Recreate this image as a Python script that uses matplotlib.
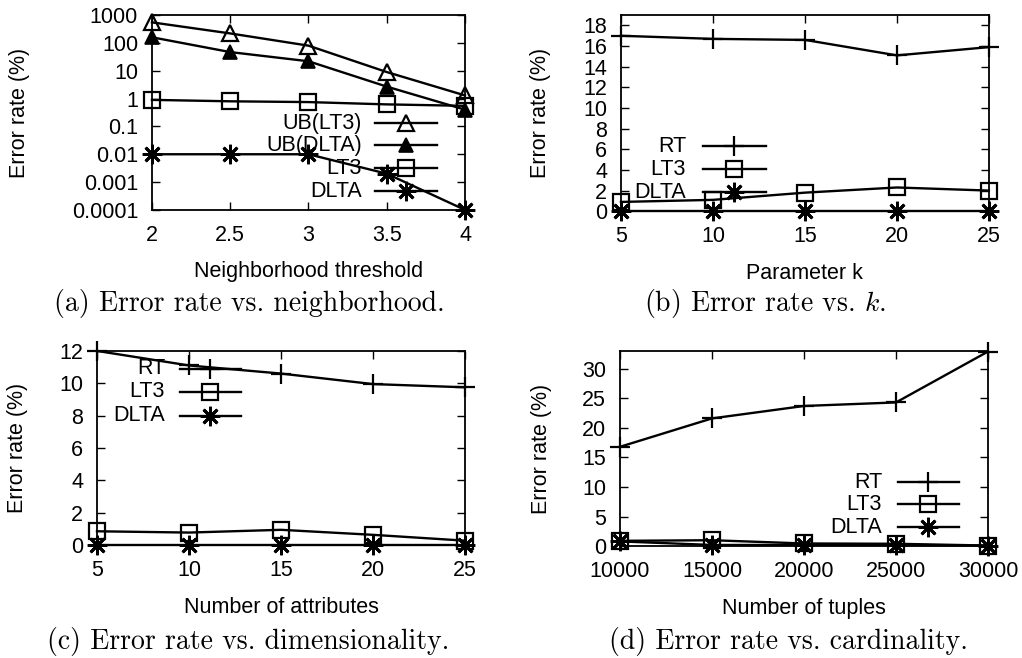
import matplotlib
matplotlib.use("Agg")
import matplotlib.pyplot as plt
from matplotlib.ticker import LogLocator, NullFormatter

plt.rcParams["font.family"] = ["Liberation Sans", "DejaVu Sans"]
plt.rcParams["mathtext.fontset"] = "cm"

# =============================================================================
# DATA
# =============================================================================
# (a) error rate vs neighborhood threshold (log scale)
nbr_threshold = [2, 2.5, 3, 3.5, 4]
a_ub_lt3  = [550, 220, 80, 9, 1.3]
a_ub_dlta = [160, 47, 22, 2.7, 0.4]
a_lt3     = [0.9, 0.8, 0.75, 0.62, 0.55]
a_dlta    = [0.01, 0.01, 0.01, 0.002, 0.0001]
a_yticks  = [1e-4, 1e-3, 1e-2, 1e-1, 1, 10, 100, 1000]
a_ylabels = ["0.0001", "0.001", "0.01", "0.1", "1", "10", "100", "1000"]

# (b) error rate vs k
param_k = [5, 10, 15, 20, 25]
b_rt    = [17.0, 16.7, 16.6, 15.1, 15.9]
b_lt3   = [0.9, 1.1, 1.8, 2.3, 2.0]
b_dlta  = [0, 0, 0, 0, 0]

# (c) error rate vs number of attributes
n_attr = [5, 10, 15, 20, 25]
c_rt   = [12.0, 11.1, 10.6, 9.95, 9.75]
c_lt3  = [0.85, 0.77, 0.94, 0.63, 0.27]
c_dlta = [0, 0, 0, 0, 0]

# (d) error rate vs number of tuples
n_tuples = [10000, 15000, 20000, 25000, 30000]
d_rt     = [16.8, 21.6, 23.7, 24.3, 32.9]
d_lt3    = [0.9, 1.0, 0.45, 0.4, 0.1]
d_dlta   = [0.8, 0.2, 0.2, 0.2, 0.1]

# =============================================================================
# STYLE
# =============================================================================
FS = 15.5
LW = 1.7
MARKERS = {
    "UB(LT3)":  dict(marker="^", mfc="none", ms=12, mew=1.6),
    "UB(DLTA)": dict(marker="^", mfc="black", ms=10.5, mew=1.2),
    "LT3":      dict(marker="s", mfc="none", ms=12, mew=1.6),
    "DLTA":     dict(marker=(8, 2, 0), ms=14, mew=2.0),
    "RT":       dict(marker="+", ms=14, mew=1.6),
}


def draw_panel(ax, x, series, labels, leg, ylab_x):
    for y, lab in zip(series, labels):
        ax.plot(x, y, color="black", lw=LW, clip_on=False, zorder=3, **MARKERS[lab])

    # gnuplot-style key: right-aligned text, then sample line with marker
    txt_x, x0, x1, rows = leg
    for lab, yr in zip(labels, rows):
        ax.plot([x0, (x0 + x1) / 2, x1], [yr] * 3, transform=ax.transAxes,
                color="black", lw=LW, markevery=[1], clip_on=False, zorder=4,
                **MARKERS[lab])
        ax.text(txt_x, yr, lab, transform=ax.transAxes, ha="right", va="center",
                fontsize=FS, zorder=2)

    ax.tick_params(which="both", direction="in", top=True, right=True,
                   labelsize=FS, width=1.0)
    ax.tick_params(which="major", length=6)
    ax.tick_params(axis="x", pad=11)
    ax.tick_params(axis="y", pad=10)
    for sp in ax.spines.values():
        sp.set_linewidth(1.3)
    ax.set_ylabel("Error rate (%)", fontsize=FS)
    ax.yaxis.set_label_coords(ylab_x, 0.5)


fig = plt.figure(figsize=(10.22, 6.58), dpi=100)

# (a)
ax_a = fig.add_axes([0.1487, 0.681, 0.3063, 0.296])
draw_panel(ax_a, nbr_threshold, [a_ub_lt3, a_ub_dlta, a_lt3, a_dlta],
           ["UB(LT3)", "UB(DLTA)", "LT3", "DLTA"],
           (0.671, 0.712, 0.911, [0.446, 0.333, 0.215, 0.097]), -0.39)
ax_a.set_yscale("log")
ax_a.set_ylim(1e-4, 1e3)
ax_a.set_yticks(a_yticks, a_ylabels)
ax_a.yaxis.set_minor_locator(LogLocator(base=10, subs=range(2, 10)))
ax_a.yaxis.set_minor_formatter(NullFormatter())
ax_a.tick_params(which="minor", length=3)
ax_a.set_xlim(2, 4)
ax_a.set_xticks(nbr_threshold, ["2", "2.5", "3", "3.5", "4"])
ax_a.set_xlabel("Neighborhood threshold", fontsize=FS, labelpad=11)

# (b)
ax_b = fig.add_axes([0.6076, 0.679, 0.360, 0.298])
draw_panel(ax_b, param_k, [b_rt, b_lt3, b_dlta], ["RT", "LT3", "DLTA"],
           (0.177, 0.223, 0.394, [0.332, 0.214, 0.097]), -0.19)
ax_b.set_ylim(0, 19)
ax_b.set_yticks(range(0, 19, 2))
ax_b.set_xlim(5, 25)
ax_b.set_xticks(param_k)
ax_b.set_xlabel("Parameter k", fontsize=FS, labelpad=11)

# (c)
ax_c = fig.add_axes([0.0949, 0.1717, 0.360, 0.295])
draw_panel(ax_c, n_attr, [c_rt, c_lt3, c_dlta], ["RT", "LT3", "DLTA"],
           (0.185, 0.226, 0.391, [0.907, 0.789, 0.665]), -0.1875)
ax_c.set_ylim(0, 12)
ax_c.set_yticks(range(0, 13, 2))
ax_c.set_xlim(5, 25)
ax_c.set_xticks(n_attr)
ax_c.set_xlabel("Number of attributes", fontsize=FS, labelpad=11)

# (d)
ax_d = fig.add_axes([0.6067, 0.170, 0.360, 0.2966])
draw_panel(ax_d, n_tuples, [d_rt, d_lt3, d_dlta], ["RT", "LT3", "DLTA"],
           (0.712, 0.755, 0.921, [0.328, 0.215, 0.097]), -0.184)
ax_d.set_ylim(0, 33)
ax_d.set_yticks(range(0, 31, 5))
ax_d.set_xlim(10000, 30000)
ax_d.set_xticks(n_tuples)
ax_d.set_xlabel("Number of tuples", fontsize=FS, labelpad=11)

# captions
cap = dict(fontsize=20, family="cmr10", ha="center", va="center")
fig.text(249 / 1022, 1 - 303 / 658, "(a) Error rate vs. neighborhood.", **cap)
fig.text(765 / 1022, 1 - 303 / 658, "(b) Error rate vs. $k$.", **cap)
fig.text(248 / 1022, 1 - 642 / 658, "(c) Error rate vs. dimensionality.", **cap)
fig.text(788 / 1022, 1 - 642 / 658, "(d) Error rate vs. cardinality.", **cap)

fig.savefig("out.png", dpi=100)
